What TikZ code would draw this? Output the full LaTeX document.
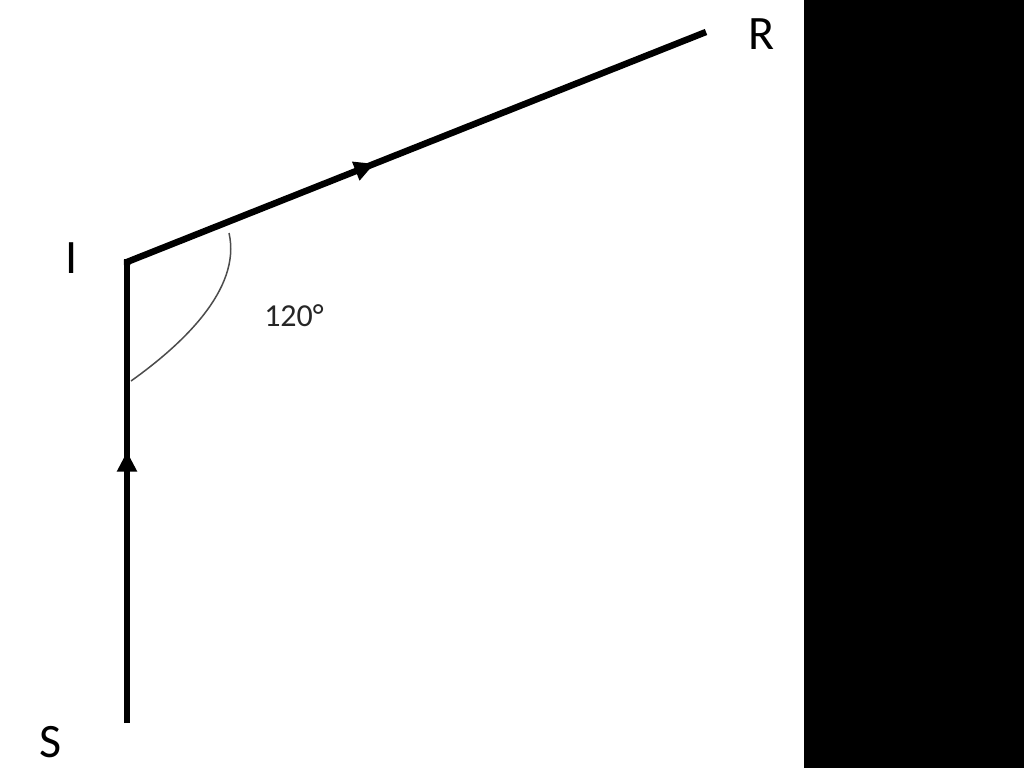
\documentclass[tikz,border=0pt]{standalone}
\usepackage{fontspec}
\setmainfont{Carlito}
\usetikzlibrary{decorations.markings,arrows.meta}
\begin{document}
\begin{tikzpicture}[x=1pt,y=-1pt,
  ray/.style={line width=6.5pt,line cap=butt},
  lbl/.style={font=\fontsize{48}{48}\selectfont,inner sep=0pt},
  midarrow/.style={postaction={decorate},decoration={markings,mark=at position #1 with {\arrow{Triangle[length=20pt,width=19pt]}}}}]
\useasboundingbox (0,0) rectangle (1024,768);
\fill[white] (0,0) rectangle (1024,768);
\fill[black] (804,0) rectangle (1024,768);
\coordinate (S) at (127,723);
\coordinate (I) at (127,262);
\coordinate (R) at (706,32);
\draw[ray,midarrow=0.585] (S) -- (127,259);
\draw[ray,line join=miter,midarrow=0.43] (127,265) -- (I) -- (R);
\coordinate (a1) at (131,381);
\coordinate (a2) at (229,233);
\draw[line width=1.5pt,black!70] (a1) .. controls (180,346) and (242,290) .. (a2);
\node[lbl] (lS) at (51,742) {S};
\node[lbl] (lI) at (72,258) {I};
\node[lbl] (lR) at (762,34) {R};
\node[font=\fontsize{32}{32}\selectfont,inner sep=0pt,text=black!85] (ang) at (294,316) {120°};
\end{tikzpicture}
\end{document}
